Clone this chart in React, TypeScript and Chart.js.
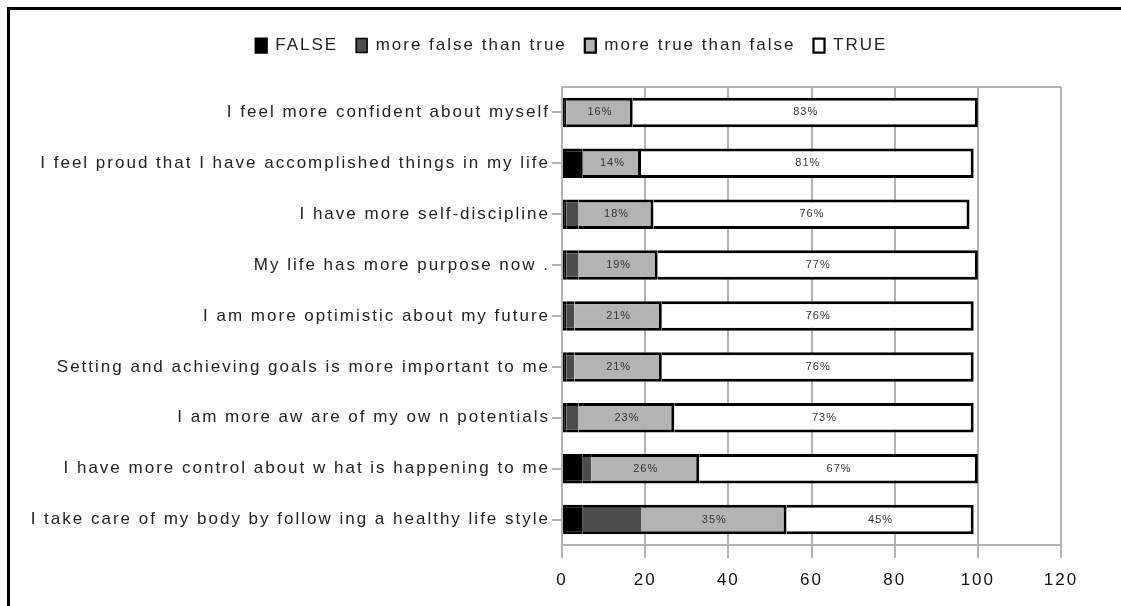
import React, { useEffect, useRef } from "react";
import { Chart, registerables } from "chart.js";

Chart.register(...registerables);

const categories = [
  "I feel more confident about myself",
  "I feel proud that I have accomplished things in my life",
  "I have more self-discipline",
  "My life has more purpose now .",
  "I am more optimistic about my future",
  "Setting and achieving goals is more important to me",
  "I am more aw are of my ow n potentials",
  "I have more control about w hat is happening to me",
  "I take care of my body by follow ing a healthy life style",
];

const falseValues = [1, 5, 1, 1, 1, 1, 1, 5, 5];
const moreFalseValues = [0, 0, 3, 3, 2, 2, 3, 2, 14];
const moreTrueValues = [16, 14, 18, 19, 21, 21, 23, 26, 35];
const trueValues = [83, 80, 76, 77, 75, 75, 72, 67, 45];

const moreTrueLabels = ["16%", "14%", "18%", "19%", "21%", "21%", "23%", "26%", "35%"];
const trueLabels = ["83%", "81%", "76%", "77%", "76%", "76%", "73%", "67%", "45%"];

const seriesNames = ["FALSE", "more false than true", "more true than false", "TRUE"];
const xTicks = [0, 20, 40, 60, 80, 100, 120];

const FONT = "'Liberation Sans', Arial, sans-serif";
const GRID = "#b3b3b3";

export default function App() {
  const ref = useRef<HTMLCanvasElement | null>(null);

  useEffect(() => {
    if (!ref.current) return;

    const segLabels: (string[] | null)[] = [null, null, moreTrueLabels, trueLabels];

    const spacingPlugin = {
      id: "spacing",
      beforeUpdate(chart: any) {
        chart.ctx.letterSpacing = "2px";
      },
      beforeDraw(chart: any) {
        chart.ctx.letterSpacing = "2px";
      },
    };

    const legendShiftPlugin = {
      id: "legendShift",
      afterLayout(chart: any) {
        const lg = chart.legend;
        if (!lg) return;
        lg.left += 41;
        lg.right += 41;
      },
    };

    const labelPlugin = {
      id: "segLabels",
      afterDatasetsDraw(chart: any) {
        const ctx = chart.ctx;
        ctx.save();
        ctx.font = `11px ${FONT}`;
        ctx.letterSpacing = "1px";
        ctx.fillStyle = "#333";
        ctx.textAlign = "center";
        ctx.textBaseline = "middle";
        chart.data.datasets.forEach((_: any, di: number) => {
          const labs = segLabels[di];
          if (!labs) return;
          const meta = chart.getDatasetMeta(di);
          meta.data.forEach((el: any, i: number) => {
            const cx = (el.x + el.base) / 2;
            ctx.fillText(labs[i], cx + 0.5, el.y);
          });
        });
        ctx.restore();
      },
    };

    const framePlugin = {
      id: "frameTop",
      beforeDatasetsDraw(chart: any) {
        const { ctx, chartArea } = chart;
        ctx.save();
        ctx.strokeStyle = GRID;
        ctx.lineWidth = 2;
        ctx.beginPath();
        ctx.moveTo(chartArea.left, chartArea.top);
        ctx.lineTo(chartArea.right, chartArea.top);
        ctx.stroke();
        ctx.restore();
      },
    };

    const legendHeightPlugin = {
      id: "legendHeight",
      beforeInit(chart: any) {
        const legend = chart.legend;
        if (!legend) return;
        const orig = legend.fit;
        legend.fit = function () {
          orig.call(this);
          this.height = 68;
        };
      },
    };

    const mk = (label: string, data: number[], color: string, left: number, right: number) => ({
      label,
      data,
      backgroundColor: color,
      borderColor: "#000",
      borderWidth: { top: 3, bottom: 3, right, left },
      borderSkipped: false as const,
      barPercentage: 0.58,
      categoryPercentage: 1,
    });

    const chart = new Chart(ref.current, {
      type: "bar",
      data: {
        labels: categories,
        datasets: [
          mk(seriesNames[0], falseValues, "#000000", 3, 0),
          mk(seriesNames[1], moreFalseValues, "#4d4d4d", 0, 0),
          mk(seriesNames[2], moreTrueValues, "#b3b3b3", 0, 3),
          mk(seriesNames[3], trueValues, "#ffffff", 0, 3),
        ],
      },
      options: {
        indexAxis: "y",
        animation: false,
        responsive: true,
        maintainAspectRatio: false,
        layout: { padding: { left: 0, right: 60, top: 19, bottom: 0 } },
        plugins: {
          legend: {
            position: "top",
            labels: {
              boxWidth: 11,
              boxHeight: 14,
              padding: 18,
              color: "#222",
              font: { family: FONT, size: 17 },
            },
          },
          tooltip: { enabled: false },
        },
        scales: {
          x: {
            stacked: true,
            min: 0,
            max: 120,
            afterBuildTicks(scale: any) {
              scale.ticks = xTicks.map((v) => ({ value: v }));
            },
            afterFit(scale: any) {
              scale.height = 61;
            },
            grid: {
              color: GRID,
              lineWidth: 2,
              tickLength: 13,
              drawTicks: true,
            },
            border: { color: GRID, width: 2 },
            ticks: {
              color: "#111",
              padding: 12,
              font: { family: FONT, size: 17 },
            },
          },
          y: {
            stacked: true,
            afterFit(scale: any) {
              scale.width = 562;
            },
            grid: {
              offset: false,
              drawOnChartArea: false,
              color: GRID,
              lineWidth: 2,
              tickLength: 10,
            },
            border: { color: GRID, width: 2 },
            ticks: {
              color: "#222",
              padding: 2,
              font: { family: FONT, size: 17 },
            },
          },
        },
      },
      plugins: [spacingPlugin, legendHeightPlugin, legendShiftPlugin, framePlugin, labelPlugin],
    } as any);

    return () => chart.destroy();
  }, []);

  return (
    <div
      style={{
        position: "fixed",
        left: 0,
        top: 0,
        width: 1121,
        height: 606,
        background: "#fff",
        overflow: "hidden",
      }}
    >
      <canvas ref={ref} />
      <div
        style={{
          position: "absolute",
          left: 7,
          top: 7,
          width: 1200,
          height: 700,
          borderTop: "3px solid #000",
          borderLeft: "3px solid #000",
          pointerEvents: "none",
        }}
      />
    </div>
  );
}
